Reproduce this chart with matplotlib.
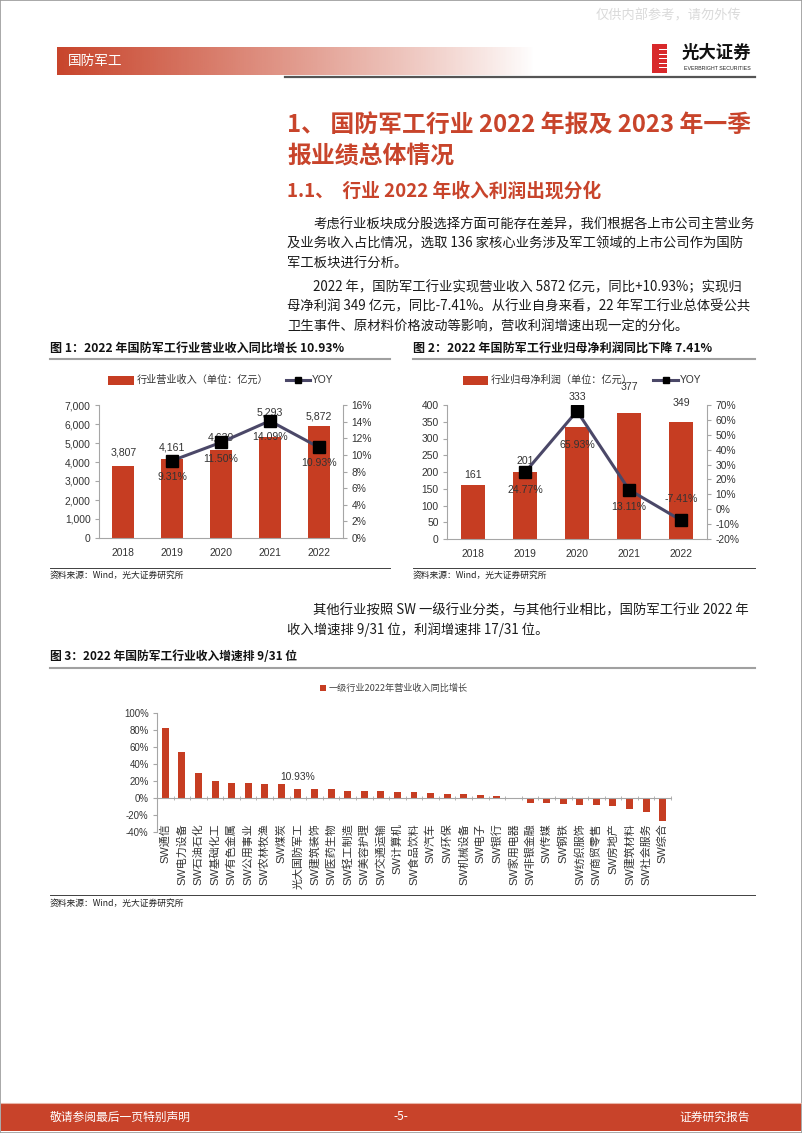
import matplotlib
matplotlib.use('Agg')
import matplotlib.pyplot as plt
import numpy as np
from matplotlib.patches import Rectangle
from matplotlib.lines import Line2D
from matplotlib.ticker import FuncFormatter

# ---------------- data ----------------
years = ['2018', '2019', '2020', '2021', '2022']
revenue = [3807, 4161, 4639, 5293, 5872]
revenue_yoy = [9.31, 11.50, 14.09, 10.93]          # 2019-2022
profit = [161, 201, 333, 377, 349]
profit_yoy = [24.77, 65.93, 13.11, -7.41]          # 2019-2022

industries = ['SW通信', 'SW电力设备', 'SW石油石化', 'SW基础化工', 'SW有色金属',
              'SW公用事业', 'SW农林牧渔', 'SW煤炭', '光大国防军工', 'SW建筑装饰',
              'SW医药生物', 'SW轻工制造', 'SW美容护理', 'SW交通运输', 'SW计算机',
              'SW食品饮料', 'SW汽车', 'SW环保', 'SW机械设备', 'SW电子', 'SW银行',
              'SW家用电器', 'SW非银金融', 'SW传媒', 'SW钢铁', 'SW纺织服饰',
              'SW商贸零售', 'SW房地产', 'SW建筑材料', 'SW社会服务', 'SW综合']
growth = [82.0, 54.5, 30.0, 20.0, 18.0, 17.8, 17.0, 16.0, 10.93, 10.8,
          10.6, 8.5, 8.0, 7.9, 7.1, 7.0, 5.8, 5.0, 4.5, 3.0, 2.3,
          -1.5, -5.4, -6.2, -7.0, -7.7, -8.5, -9.7, -12.8, -16.7, -27.0]
highlight_index = 8

# label offsets (pixels, + up) as placed in the reference
rev_label_dy = [13, 11, 12, 25, 10]
rev_yoy_dy = [-16, -17, -16, -16]
pro_label_dy = [10, 11, 30, 26, 19]
pro_yoy_dy = [-18, -34, -17, 21]

# ---------------- style ----------------
W, H = 802, 1133
fig = plt.figure(figsize=(W / 100, H / 100), dpi=100)
CJK = ['Noto Sans CJK SC', 'DejaVu Sans']
ACJK = ['Liberation Sans', 'Noto Sans CJK SC', 'DejaVu Sans']
RED = '#C8442B'
BAR = '#C63D22'
LINE = '#4B4868'
AX = '#A6A6A6'
TXT = '#333333'


def T(x, y, s, **kw):
    kw.setdefault('family', CJK)
    kw.setdefault('va', 'center')
    return fig.text(x / W, 1 - y / H, s, **kw)


def hline(x0, x1, y, color, lw):
    fig.add_artist(Line2D([x0 / W, x1 / W], [1 - y / H, 1 - y / H], color=color, lw=lw))


def rect(x0, y0, x1, y1, color, **kw):
    fig.add_artist(Rectangle((x0 / W, 1 - y1 / H), (x1 - x0) / W, (y1 - y0) / H,
                             transform=fig.transFigure, facecolor=color, edgecolor='none', **kw))


def add_ax(l, t, r, b):
    return fig.add_axes([l / W, 1 - b / H, (r - l) / W, (b - t) / H])


# page border
fig.add_artist(Rectangle((0, 0), 1, 1, transform=fig.transFigure, fill=False,
                         edgecolor='#9A9A9A', lw=1.2))

# watermark
T(668, 16, '仅供内部参考，请勿外传', ha='center', fontsize=9.5, color='#DADADA')

# header gradient band
hax = add_ax(57, 47, 535, 75)
grad = np.ones((1, 256, 4))
c = matplotlib.colors.to_rgb(RED)
grad[0, :, 0:3] = c
grad[0, :, 3] = np.linspace(1, 0, 256) ** 0.9
hax.imshow(grad, aspect='auto', extent=[0, 1, 0, 1])
hax.axis('off')
T(68, 61, '国防军工', fontsize=9.8, color='white')
hline(285, 755, 77, '#555555', 1.6)

# logo
rect(652, 44, 667, 73, '#D8292B')
for yy in [49, 53.5, 58, 62.5, 67]:
    rect(659, yy, 667, yy + 1.4, 'white')
T(716, 53, '光大证券', ha='center', fontsize=12.5, weight='bold', color='#111111')
T(717, 68, 'EVERBRIGHT SECURITIES', ha='center', fontsize=3.8, family=ACJK, color='#222222')

# headings
T(287, 125, '1、 国防军工行业 2022 年报及 2023 年一季', fontsize=17.2, color=RED, weight='bold')
T(287, 156, '报业绩总体情况', fontsize=17.2, color=RED, weight='bold')
T(287, 191, '1.1、  行业 2022 年收入利润出现分化', fontsize=13.5, color=RED, weight='bold')

body = dict(fontsize=9.6, color='#1A1A1A')
T(313, 224, '考虑行业板块成分股选择方面可能存在差异，我们根据各上市公司主营业务', **body)
T(287, 243.5, '及业务收入占比情况，选取 136 家核心业务涉及军工领域的上市公司作为国防', **body)
T(287, 263, '军工板块进行分析。', **body)
T(313, 287, '2022 年，国防军工行业实现营业收入 5872 亿元，同比+10.93%；实现归', **body)
T(287, 306.5, '母净利润 349 亿元，同比-7.41%。从行业自身来看，22 年军工行业总体受公共', **body)
T(287, 326, '卫生事件、原材料价格波动等影响，营收利润增速出现一定的分化。', **body)

# chart titles
T(50, 348, '图 1：2022 年国防军工行业营业收入同比增长 10.93%', fontsize=8.7, weight='bold', color='#111111')
T(413, 348, '图 2：2022 年国防军工行业归母净利润同比下降 7.41%', fontsize=8.7, weight='bold', color='#111111')
hline(50, 390, 359, '#A0A0A0', 1.5)
hline(413, 755, 359, '#A0A0A0', 1.5)
hline(50, 390, 568, '#404040', 0.7)
hline(413, 755, 568, '#404040', 0.7)
T(50, 575, '资料来源：Wind，光大证券研究所', fontsize=6.3, color='#222222')
T(413, 575, '资料来源：Wind，光大证券研究所', fontsize=6.3, color='#222222')


def dual_chart(l, t, r, b, vals, yoy, ymax, ystep, rlo, rhi, rstep, ldy, ydy):
    ax = add_ax(l, t, r, b)
    x = np.arange(len(years))
    ax.bar(x, vals, width=0.45, color=BAR, zorder=2)
    ax.set_xlim(-0.5, len(years) - 0.5)
    ax.set_ylim(0, ymax)
    ax.set_yticks(np.arange(0, ymax + 1, ystep))
    ax.yaxis.set_major_formatter(FuncFormatter(lambda v, p: f'{int(v):,}'))
    ax.set_xticks(x, years)
    for s in ['top', 'right']:
        ax.spines[s].set_visible(False)
    for s in ['left', 'bottom']:
        ax.spines[s].set_color(AX)
        ax.spines[s].set_linewidth(0.8)
    ax.tick_params(axis='y', length=3, color=AX, labelsize=7.4, labelcolor=TXT, pad=3)
    ax.tick_params(axis='x', length=0, labelsize=7.4, labelcolor=TXT, pad=7)
    for lab in ax.get_xticklabels() + ax.get_yticklabels():
        lab.set_family(ACJK)
    for i, v in enumerate(vals):
        ax.annotate(f'{v:,}', (x[i], v), xytext=(0, ldy[i] * 0.72), textcoords='offset points',
                    ha='center', va='center', fontsize=7.6, family=ACJK, color=TXT, zorder=3)
    axr = ax.twinx()
    axr.plot(x[1:], yoy, color=LINE, lw=2.2, marker='s', ms=8.5, mfc='black', mec='black', zorder=5)
    axr.set_ylim(rlo, rhi)
    axr.set_yticks(np.arange(rlo, rhi + 1, rstep))
    axr.yaxis.set_major_formatter(FuncFormatter(lambda v, p: f'{int(round(v))}%'))
    for s in ['top', 'left', 'bottom']:
        axr.spines[s].set_visible(False)
    axr.spines['right'].set_color(AX)
    axr.spines['right'].set_linewidth(0.8)
    axr.tick_params(axis='y', length=3, color=AX, labelsize=7.4, labelcolor=TXT, pad=3)
    for lab in axr.get_yticklabels():
        lab.set_family(ACJK)
    for i, v in enumerate(yoy):
        axr.annotate(f'{v:.2f}%', (x[i + 1], v), xytext=(0, ydy[i] * 0.72), textcoords='offset points',
                     ha='center', va='center', fontsize=7.6, family=ACJK, color=TXT, zorder=6)
    return ax, axr


dual_chart(99, 405, 343, 538, revenue, revenue_yoy, 7000, 1000, 0, 16, 2, rev_label_dy, rev_yoy_dy)
dual_chart(447, 405, 707, 539, profit, profit_yoy, 400, 50, -20, 70, 10, pro_label_dy, pro_yoy_dy)

# legends of charts 1 and 2
rect(108, 376, 134, 385, BAR)
T(137, 380, '行业营业收入（单位：亿元）', fontsize=7.3, color=TXT)
fig.add_artist(Line2D([286 / W, 310 / W], [1 - 380 / H] * 2, color=LINE, lw=2.2))
fig.add_artist(Line2D([298 / W], [1 - 380 / H], marker='s', ms=5, color='black'))
T(312, 380, 'YOY', fontsize=7.4, family=ACJK, color=TXT)

rect(463, 376, 488, 385, BAR)
T(491, 380, '行业归母净利润（单位：亿元）', fontsize=7.3, color=TXT)
fig.add_artist(Line2D([653 / W, 678 / W], [1 - 380 / H] * 2, color=LINE, lw=2.2))
fig.add_artist(Line2D([665.5 / W], [1 - 380 / H], marker='s', ms=5, color='black'))
T(680, 380, 'YOY', fontsize=7.4, family=ACJK, color=TXT)

# paragraph before chart 3
T(313, 610, '其他行业按照 SW 一级行业分类，与其他行业相比，国防军工行业 2022 年', **body)
T(287, 629.5, '收入增速排 9/31 位，利润增速排 17/31 位。', **body)

T(50, 657, '图 3：2022 年国防军工行业收入增速排 9/31 位', fontsize=8.5, weight='bold', color='#111111')
hline(50, 755, 668, '#A0A0A0', 1.5)

# chart 3
ax3 = add_ax(157, 713, 671, 832)
x3 = np.arange(len(industries))
ax3.bar(x3, growth, width=0.42, color=BAR, zorder=2)
ax3.set_xlim(-0.5, len(industries) - 0.5)
ax3.set_ylim(-40, 100)
ax3.set_yticks(np.arange(-40, 101, 20))
ax3.yaxis.set_major_formatter(FuncFormatter(lambda v, p: f'{int(v)}%'))
for s in ['top', 'right']:
    ax3.spines[s].set_visible(False)
ax3.spines['bottom'].set_position(('data', 0))
for s in ['left', 'bottom']:
    ax3.spines[s].set_color(AX)
    ax3.spines[s].set_linewidth(0.8)
ax3.set_xticks(x3, industries, rotation=90)
ax3.set_xticks(np.arange(-0.5, len(industries), 1), minor=True)
ax3.tick_params(axis='x', which='major', length=0, pad=18, labelsize=7.9, labelcolor=TXT)
ax3.tick_params(axis='x', which='minor', length=3, color=AX, direction='inout')
ax3.tick_params(axis='y', length=3, color=AX, labelsize=6.9, labelcolor=TXT, pad=3)
for lab in ax3.get_xticklabels() + ax3.get_yticklabels():
    lab.set_family(ACJK)
ax3.annotate(f'{growth[highlight_index]:.2f}%', (x3[highlight_index], growth[highlight_index]),
             xytext=(0, 12 * 0.72), textcoords='offset points', ha='center', va='center',
             fontsize=7.4, family=ACJK, color=TXT)

rect(320, 685, 326, 691, BAR)
T(329, 688, '一级行业2022年营业收入同比增长', fontsize=6.6, color='#444444')

hline(50, 755, 895, '#404040', 0.7)
T(50, 903, '资料来源：Wind，光大证券研究所', fontsize=6.3, color='#222222')

# footer
rect(1, 1103, 801, 1131, '#C8432A')
hline(1, 801, 1102.5, '#E8B5A8', 0.8)
T(50, 1117, '敬请参阅最后一页特别声明', fontsize=8.5, color='white')
T(401, 1117, '-5-', ha='center', fontsize=8.5, color='white')
T(750, 1117, '证券研究报告', ha='right', fontsize=8.5, color='white')

fig.savefig('out.png', dpi=100)
